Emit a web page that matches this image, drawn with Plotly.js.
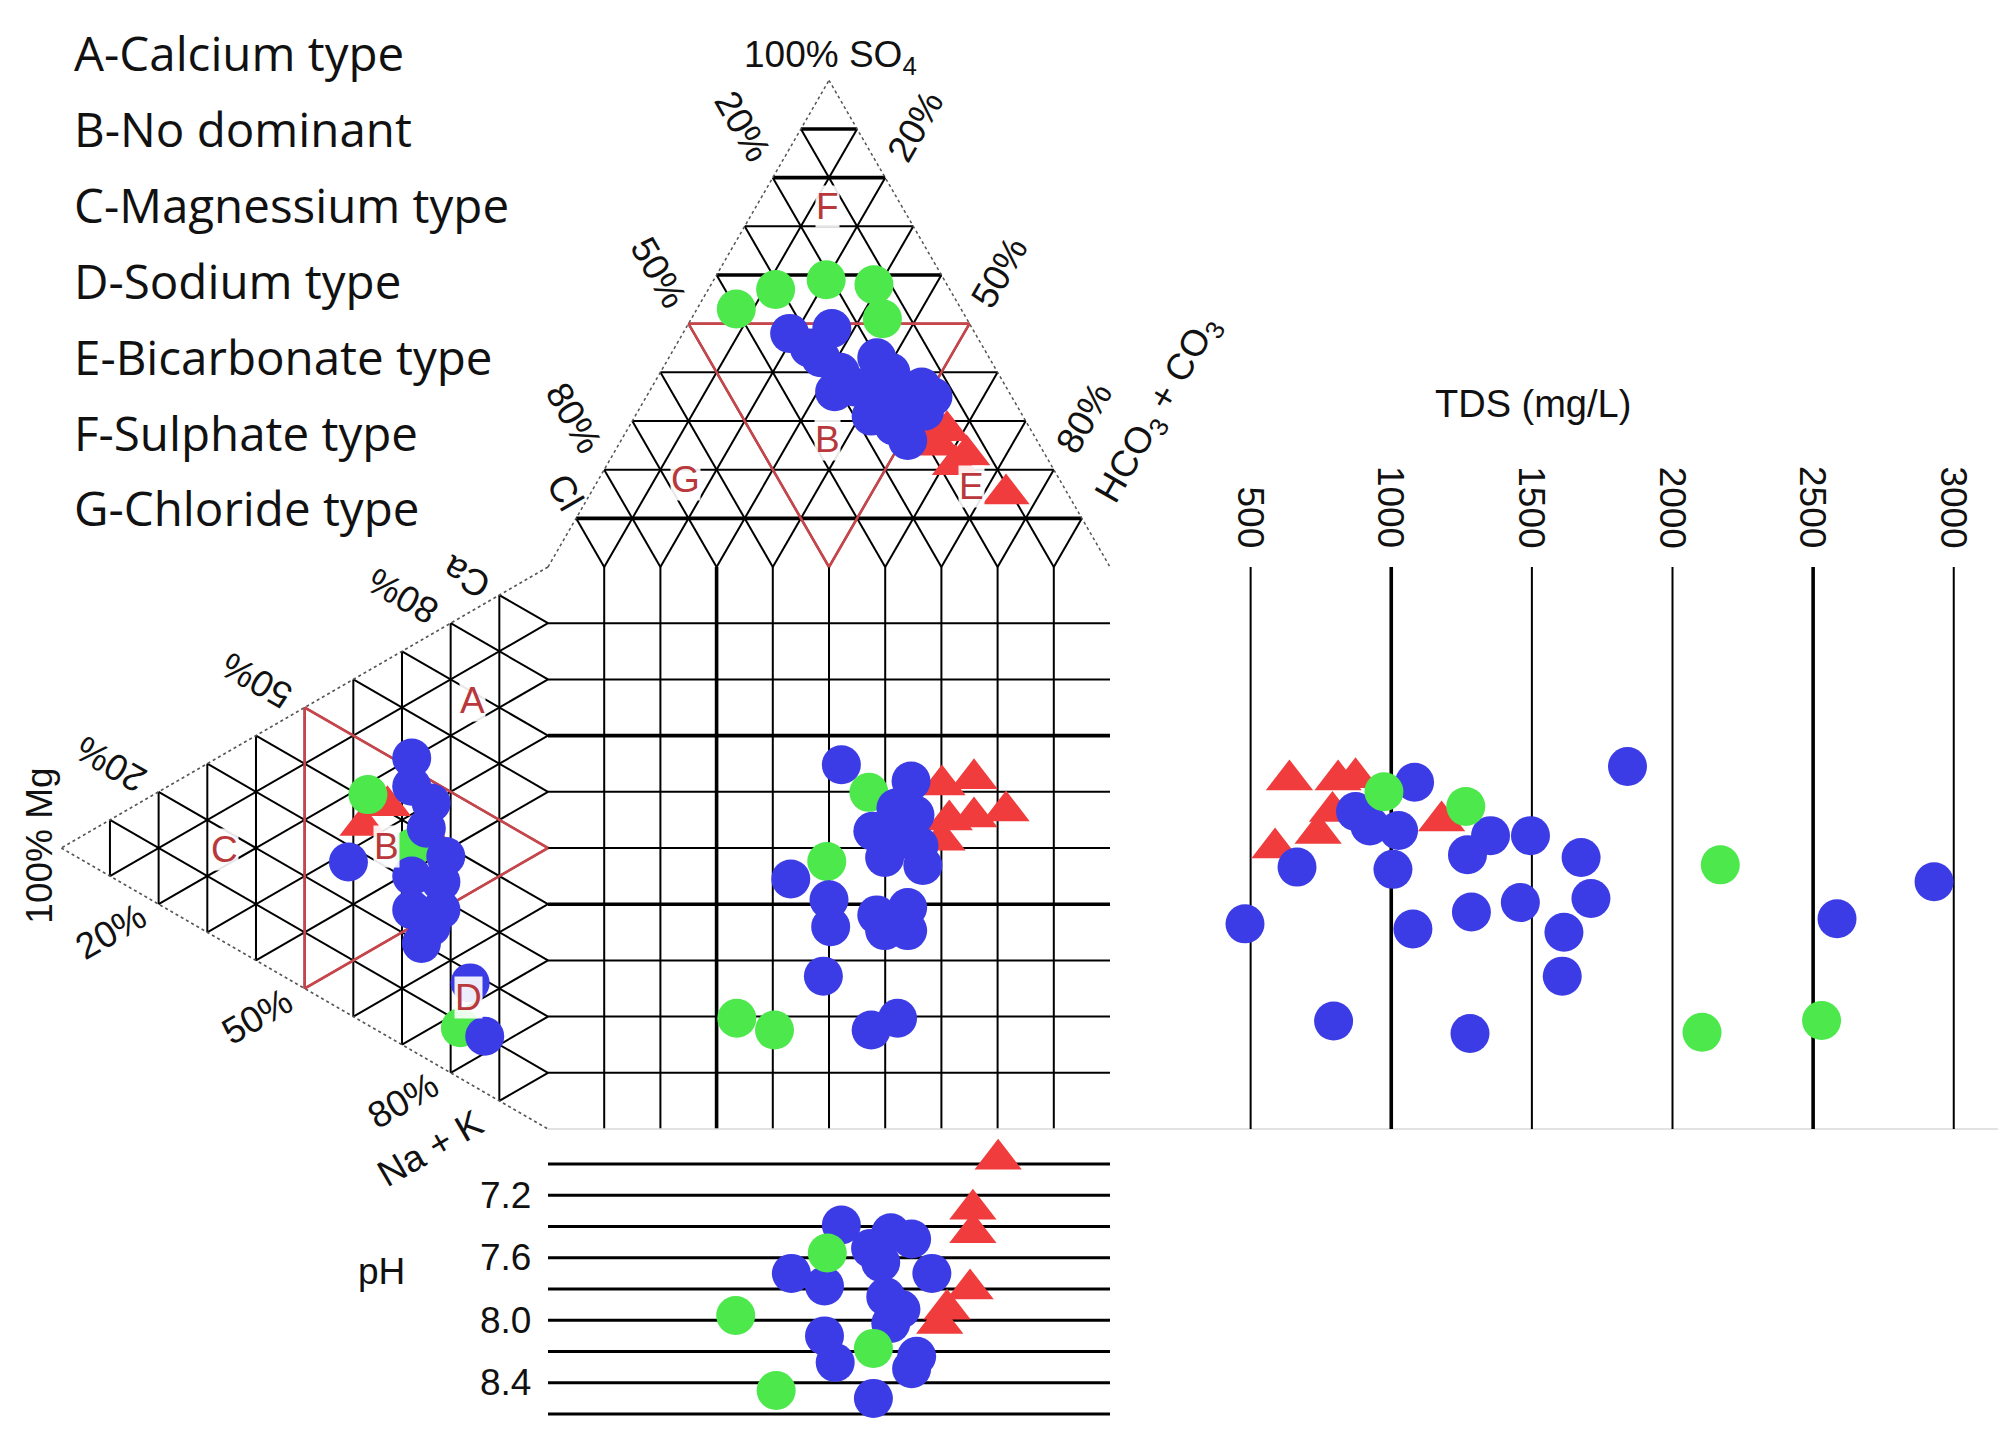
<!DOCTYPE html>
<html><head><meta charset="utf-8">
<script src="https://cdn.plot.ly/plotly-3.0.1.min.js"></script>
<style>html,body{margin:0;padding:0;background:#fff}#chart{width:2000px;height:1432px}</style>
</head><body><div id="chart"></div>
<script>
// ---------------- DATA ----------------
const typeLegend = ["A-Calcium type","B-No dominant","C-Magnessium type","D-Sodium type","E-Bicarbonate type","F-Sulphate type","G-Chloride type"];
const gridPercents = [10,20,30,40,50,60,70,80,90];
const edgeLabelPercents = [20,50,80];
const tdsTicks = [500,1000,1500,2000,2500,3000];
const phLines = [7.0,7.2,7.4,7.6,7.8,8.0,8.2,8.4,8.6];
const phTickLabels = [7.2,7.6,8.0,8.4];

// Anion triangle (%): SO4, Cl, HCO3+CO3
const anionGreenSO4  = [53,57,59,58,51];
const anionGreenCl   = [40,31,21,13,15];
const anionGreenHCO3 = [7,12,20,29,34];
const anionBlueSO4  = [48,49,43,36,43,37,40,34,35,31,29,26,37,37,45,40,33,32];
const anionBlueCl   = [33,25,30,31,20,22,19,19,14,27,24,23,27,15,31,28,23,17];
const anionBlueHCO3 = [19,26,27,33,37,41,41,47,51,42,47,51,36,48,24,32,44,51];
const anionRedSO4  = [28,23,15,25,21,28];
const anionRedCl   = [15,14,11,18,17,19];
const anionRedHCO3 = [57,63,74,57,62,53];

// Cation triangle (%): Ca, Mg, Na+K
const cationBlueCa = [52,47,46,41,27,31,33,25,28,24,18,10,20,38];
const cationBlueMg = [28,28,24,25,41,28,22,28,22,24,16,13,26,21];
const cationBlueNa = [20,25,30,34,32,41,45,47,50,52,66,77,54,41];
const cationGreenCa = [41,9,36];
const cationGreenMg = [37,18,28];
const cationGreenNa = [22,73,36];
const cationRedCa = [39,41,35];
const cationRedMg = [23,33,38];
const cationRedNa = [38,26,27];

// Central square (% projections: anion axis, cation axis)
const squareBlueX = [52.2,64.6,57.8,61.9,66.0,66.7,59.9,43.2,50.0,50.3,58.5,64.0,64.0,59.9,49.0,57.5,62.2,62.6,65.3];
const squareBlueY = [64.8,61.9,53.0,57.1,50.4,46.9,48.3,44.5,40.8,36.0,38.1,39.4,35.3,35.3,27.2,17.6,19.7,53.2,55.9];
const squareGreenX = [57.1,49.6,33.6,40.3];
const squareGreenY = [59.9,47.6,19.7,17.6];
const squareRedX = [70.1,75.8,75.8,81.5,71.4,70.1];
const squareRedY = [61.2,62.3,55.5,56.6,55.0,51.4];

// TDS panel (mg/L, cation axis %)
const tdsBlue  = [1840,1083,924,1026,873,1353,1495,1271,1675,665,1006,2930,1710,1459,1285,480,2585,1077,1614,1608,795,1280];
const tdsBlueY = [64.5,61.7,53.9,53.1,56.5,52.2,52.2,48.8,48.3,46.6,46.2,44.0,41.0,40.3,38.6,36.5,37.4,35.6,35.0,27.2,19.2,17.0];
const tdsGreen  = [974,1265,2170,2105,2530];
const tdsGreenY = [60.0,57.4,47.0,17.2,19.3];
const tdsRed  = [638,811,873,791,740,587,1179];
const tdsRedY = [62.1,62.1,62.5,56.5,52.6,50.0,54.8];

// pH panel (anion axis %, pH)
const phBlueX = [52.2,61.0,64.7,43.3,49.2,59.2,68.3,60.1,61.0,62.8,49.2,51.1,65.6,64.7,57.9,57.4];
const phBlue  = [7.39,7.44,7.48,7.70,7.78,7.63,7.70,7.85,8.02,7.93,8.10,8.27,8.23,8.31,8.50,7.54];
const phGreenX = [49.7,33.4,57.9,40.6];
const phGreen  = [7.57,7.97,8.18,8.45];
const phRedX = [80.1,75.6,75.6,75.1,71.0,69.7];
const phRed  = [6.97,7.29,7.44,7.80,7.93,8.02];

// ---------------- GEOMETRY / STYLE ----------------
const K = Math.sqrt(3)/2;
const W = 2000, H = 1432;
const SQ_L = 548, SQ_B = 1129, PX_PER_UNIT = 5.62;       // square 0..100 units
const TDS_PX0 = 1110, TDS_PX_PER = 0.28125;               // TDS axis
const PH_PX0 = 1164, PH_PX_PER = 156.25;                  // pH axis (7.0 at PH_PX0)
const BLUE = '#3c3ce6', GREEN = '#4ce84c', RED = '#f03c3c', DARKRED = '#b8383c';
const NUMFONT = 'Liberation Sans, Arial, sans-serif';

function topXY(so4, cl, hco3){ return [hco3 + so4/2, 100 + K*so4]; }
function leftXY(ca, mg, na){ return [-K*mg, ca + mg/2]; }
function segTrace(pairs, opts){
  const x=[], y=[];
  pairs.forEach(([p,q])=>{ x.push(p[0], q[0], null); y.push(p[1], q[1], null); });
  return Object.assign({type:'scatter', mode:'lines', x, y, hoverinfo:'skip', showlegend:false}, opts);
}
const traces = [];
const thin = {color:'#000', width:2};
const thick = {color:'#000', width:3.6};

// top triangle grid
const thickRows = [90,80,60,10];
traces.push(segTrace(gridPercents.filter(a=>!thickRows.includes(a)).map(a=>[topXY(a,100-a,0), topXY(a,0,100-a)]), {line:thin}));
traces.push(segTrace(thickRows.map(a=>[topXY(a,100-a,0), topXY(a,0,100-a)]), {line:thick}));
traces.push(segTrace(gridPercents.map(b=>[topXY(100-b,b,0), topXY(0,b,100-b)]), {line:thin}));
traces.push(segTrace(gridPercents.map(c=>[topXY(100-c,0,c), topXY(0,100-c,c)]), {line:thin}));
// left triangle grid
traces.push(segTrace(gridPercents.map(m=>[leftXY(100-m,m,0), leftXY(0,m,100-m)]), {line:thin}));
traces.push(segTrace(gridPercents.map(c=>[leftXY(c,100-c,0), leftXY(c,0,100-c)]), {line:thin}));
traces.push(segTrace(gridPercents.map(n=>[leftXY(0,100-n,n), leftXY(100-n,0,n)]), {line:thin}));
// square grid
const thickV = [30], thickH = [40,70];
traces.push(segTrace(gridPercents.filter(u=>!thickV.includes(u)).map(u=>[[u,0],[u,100]]), {line:thin}));
traces.push(segTrace(thickV.map(u=>[[u,0],[u,100]]), {line:thick}));
traces.push(segTrace(gridPercents.filter(v=>!thickH.includes(v)).map(v=>[[0,v],[100,v]]), {line:thin}));
traces.push(segTrace(thickH.map(v=>[[0,v],[100,v]]), {line:thick}));
// faint bottom line
traces.push(segTrace([[[0,0],[258,0]]], {line:{color:'#d8d8d8', width:1.5}}));
// dotted outlines
traces.push(segTrace([[topXY(0,100,0), topXY(100,0,0)], [topXY(100,0,0), topXY(0,0,100)],
  [leftXY(100,0,0), leftXY(0,100,0)], [leftXY(0,100,0), leftXY(0,0,100)]], {line:{color:'#555', width:1.5, dash:'dot'}}));
// red region outlines (medial triangles)
traces.push(segTrace([[topXY(50,50,0), topXY(50,0,50)], [topXY(50,0,50), topXY(0,50,50)], [topXY(0,50,50), topXY(50,50,0)],
  [leftXY(50,50,0), leftXY(0,50,50)], [leftXY(0,50,50), leftXY(50,0,50)], [leftXY(50,0,50), leftXY(50,50,0)]],
  {line:{color:'#c8464b', width:2.6}}));
// TDS lines
const thickTds = [1000,2500];
traces.push(segTrace(tdsTicks.filter(t=>!thickTds.includes(t)).map(t=>[[t,0],[t,100]]), {xaxis:'x2', yaxis:'y', line:thin}));
traces.push(segTrace(thickTds.map(t=>[[t,0],[t,100]]), {xaxis:'x2', yaxis:'y', line:thick}));
// pH lines
traces.push(segTrace(phLines.map(p=>[[0,p],[100,p]]), {xaxis:'x', yaxis:'y2', line:{color:'#000', width:3}}));

// markers
function circ(color){ return {symbol:'circle', size:39, color:color, line:{width:0}}; }
function tri(){ return {symbol:'triangle-up', size:41, color:RED, line:{width:0}}; }
function pts(x, y, marker, extra){ return Object.assign({type:'scatter', mode:'markers', x, y, marker, hoverinfo:'skip', showlegend:false}, extra||{}); }
function topPts(a,b,c){ const p=a.map((_,i)=>topXY(a[i],b[i],c[i])); return [p.map(q=>q[0]), p.map(q=>q[1])]; }
function leftPts(ca,mg,na){ const p=ca.map((_,i)=>leftXY(ca[i],mg[i],na[i])); return [p.map(q=>q[0]), p.map(q=>q[1])]; }

let t;
t = topPts(anionRedSO4, anionRedCl, anionRedHCO3); traces.push(pts(t[0], t[1], tri()));
t = topPts(anionGreenSO4, anionGreenCl, anionGreenHCO3); traces.push(pts(t[0], t[1], circ(GREEN)));
t = topPts(anionBlueSO4, anionBlueCl, anionBlueHCO3); traces.push(pts(t[0], t[1], circ(BLUE)));
t = leftPts(cationRedCa, cationRedMg, cationRedNa); traces.push(pts(t[0], t[1], tri()));
t = leftPts(cationGreenCa, cationGreenMg, cationGreenNa); traces.push(pts(t[0], t[1], circ(GREEN)));
t = leftPts(cationBlueCa, cationBlueMg, cationBlueNa); traces.push(pts(t[0], t[1], circ(BLUE)));
traces.push(pts(squareRedX, squareRedY, tri()));
traces.push(pts(squareGreenX, squareGreenY, circ(GREEN)));
traces.push(pts(squareBlueX, squareBlueY, circ(BLUE)));
traces.push(pts(tdsRed, tdsRedY, tri(), {xaxis:'x2', yaxis:'y'}));
traces.push(pts(tdsBlue, tdsBlueY, circ(BLUE), {xaxis:'x2', yaxis:'y'}));
traces.push(pts(tdsGreen, tdsGreenY, circ(GREEN), {xaxis:'x2', yaxis:'y'}));
traces.push(pts(phRedX, phRed, tri(), {xaxis:'x', yaxis:'y2'}));
traces.push(pts(phBlueX, phBlue, circ(BLUE), {xaxis:'x', yaxis:'y2'}));
traces.push(pts(phGreenX, phGreen, circ(GREEN), {xaxis:'x', yaxis:'y2'}));

// ---------------- ANNOTATIONS ----------------
const ann = [];
const numFont = {family:NUMFONT, size:37, color:'#111'};
function A(o){ ann.push(Object.assign({showarrow:false, xref:'x', yref:'y', font:numFont}, o)); }
// legend text
typeLegend.forEach((s,i)=>{
  ann.push({text:s, showarrow:false, xref:'paper', yref:'paper', x:72/W, y:1-(53+i*75.8)/H,
    xanchor:'left', yanchor:'middle', font:{family:'Open Sans, sans-serif', size:47.5, color:'#111'}});
});
// top triangle labels
A({text:'100% SO<sub>4</sub>', x:50.3, y:190.8});
const dTop = 10.6;
edgeLabelPercents.forEach(p=>{
  const L = topXY(100-p, p, 0); A({text:p+'%', x:L[0]-0.5*dTop, y:L[1]+K*dTop, textangle:60});
  const R = topXY(100-p, 0, p); A({text:p+'%', x:R[0]+0.5*dTop, y:R[1]+K*dTop, textangle:-60});
});
A({text:'Cl', x:3.0, y:113.2, textangle:60});
A({text:'HCO<sub>3</sub> + CO<sub>3</sub>', x:108.6, y:128.0, textangle:-60});
// left triangle labels
const dL = 9.8;
edgeLabelPercents.forEach(p=>{
  const T = leftXY(p, 100-p, 0); A({text:p+'%', x:T[0]-K*dL, y:T[1]+0.5*dL, textangle:-150});
  const B = leftXY(0, 100-p, p); A({text:p+'%', x:B[0]-K*dL, y:B[1]-0.5*dL, textangle:-30});
});
A({text:'Ca', x:-14.6, y:98.2, textangle:-150});
A({text:'100% Mg', x:-90.4, y:50.4, textangle:-90});
A({text:'Na + K', x:-21.0, y:-3.4, textangle:-30});
// region letters
const letterFont = {family:'Liberation Sans Narrow, Liberation Sans, Arial, sans-serif', size:37, color:DARKRED};
[['F',49.8,164.2],['B',49.8,122.6],['G',24.4,115.5],['E',75.4,114.4],['A',-13.4,76.2],['C',-57.5,49.8],['B',-28.7,50.2],['D',-14.1,23.4]]
  .forEach(([s,x,y])=>A({text:s, x, y, font:letterFont, bgcolor:'rgba(255,255,255,0.9)', borderpad:0}));
// TDS axis labels
A({text:'TDS (mg/L)', xref:'x2', x:1504, y:129.0, font:{family:NUMFONT, size:38, color:'#111'}});
tdsTicks.forEach(v=>A({text:String(v), xref:'x2', x:v, y:103.0, yanchor:'bottom', textangle:90}));
// pH axis labels
phTickLabels.forEach(v=>A({text:v.toFixed(1), yref:'y2', x:-2.6, y:v, xanchor:'right'}));
A({text:'pH', yref:'y2', x:-29.7, y:7.69});

// ---------------- LAYOUT ----------------
const uL = -SQ_L/PX_PER_UNIT, uR = (W-SQ_L)/PX_PER_UNIT;
const vB = -(H-SQ_B)/PX_PER_UNIT, vT = SQ_B/PX_PER_UNIT;
const layout = {
  width:W, height:H, margin:{l:0,r:0,t:0,b:0,pad:0},
  paper_bgcolor:'#fff', plot_bgcolor:'#fff', showlegend:false, hovermode:false,
  xaxis:{range:[uL,uR], visible:false, domain:[0,1], fixedrange:true},
  yaxis:{range:[vB,vT], visible:false, domain:[0,1], fixedrange:true},
  xaxis2:{range:[-TDS_PX0/TDS_PX_PER, (W-TDS_PX0)/TDS_PX_PER], visible:false, overlaying:'x', anchor:'y'},
  yaxis2:{range:[7+(H-PH_PX0)/PH_PX_PER, 7-PH_PX0/PH_PX_PER], visible:false, overlaying:'y', anchor:'x'},
  annotations:ann
};
Plotly.newPlot('chart', traces, layout, {staticPlot:true, displayModeBar:false});
</script></body></html>
